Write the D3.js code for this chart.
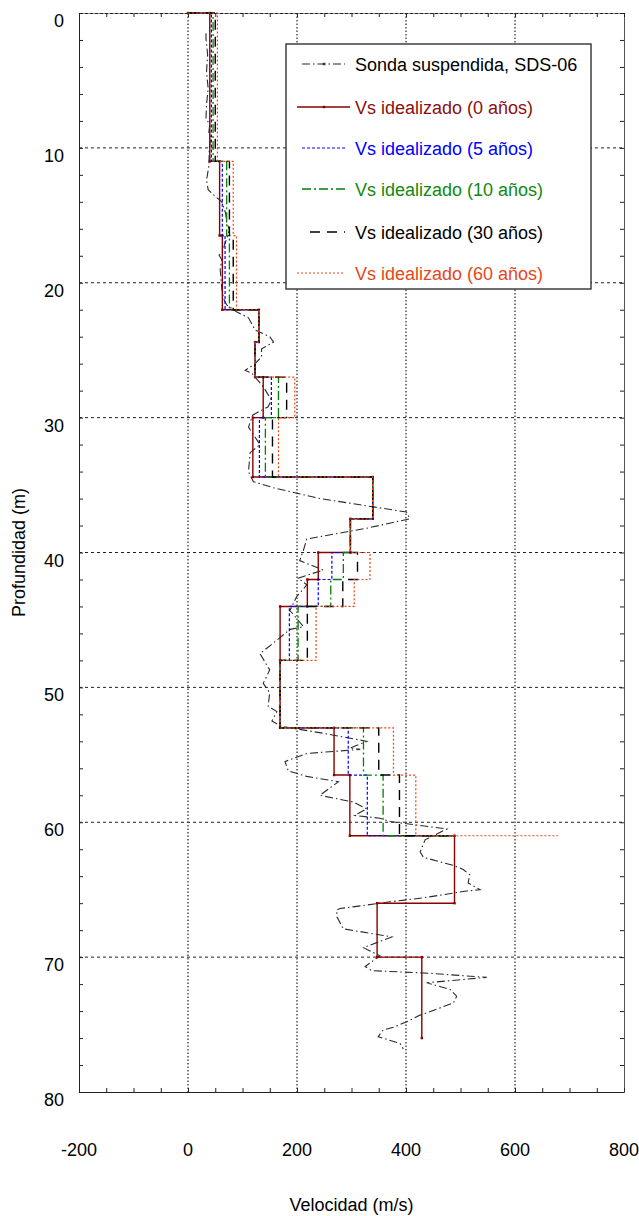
<!DOCTYPE html>
<html>
<head>
<meta charset="utf-8">
<script src="https://cdn.jsdelivr.net/npm/d3@7/dist/d3.min.js"></script>
<style>
  html, body { margin: 0; padding: 0; background: #fff; }
  svg { display: block; font-family: "Liberation Sans", Arial, sans-serif; }
</style>
</head>
<body>
<svg id="chart" width="639" height="1216"></svg>
<script>
// Axis ticks
const depthTicks = [0, 10, 20, 30, 40, 50, 60, 70, 80];
const velTicks = [-200, 0, 200, 400, 600, 800];

// Idealized layering: top and bottom depth of every layer (m)
const layerTop    = [0, 11, 16.5, 22, 24.4, 27, 30, 34.4, 37.5, 40, 42, 44, 48, 53, 56.5, 61, 66, 70];
const layerBottom = [11, 16.5, 22, 24.4, 27, 30, 34.4, 37.5, 40, 42, 44, 48, 53, 56.5, 61, 66, 70, 76];

// Shear-wave velocity per layer (m/s) for each age
const vs0  = [40, 58, 63, 130, 123, 138, 119, 339, 298, 239, 219, 169, 169, 268, 297, 489, 347, 429];
const vs5  = [43, 63, 68, 130, 123, 153, 131, 339, 298, 264, 239, 186, 169, 294, 329];
const vs10 = [46, 71, 76, 130, 123, 166, 142, 339, 298, 285, 262, 202, 169, 322, 358];
const vs30 = [50, 76, 83, 130, 123, 181, 155, 339, 298, 311, 284, 219, 169, 350, 388];
const vs60 = [54, 83, 89, 130, 123, 196, 166, 339, 298, 334, 305, 235, 169, 377, 418];
// Velocity at which the truncated profiles close at 61 m
const closeVs = [null, 489, 489, 489, 679];

// Suspension logging SDS-06: velocity (m/s)
const sdsVel = [33, 33, 36, 34, 37, 34, 33, 40, 38, 42, 39, 38.5, 34, 37, 50, 62, 69, 71, 76, 63, 57, 62, 59, 62, 65, 71, 89, 111, 123, 150, 157, 135, 135, 123, 105, 117, 138, 153, 147, 119, 111, 132, 114, 111, 120, 157, 242, 401, 407, 328, 218, 212, 205, 248, 202, 218, 199, 187, 212, 187, 157, 132, 150, 138, 150, 147, 163, 154, 172, 248, 328, 297, 316, 218, 178, 184, 218, 276, 242, 303, 328, 306, 352, 371, 475, 435, 426, 432, 487, 505, 517, 514, 536, 511, 432, 371, 279, 273, 273, 285, 374, 322, 352, 325, 337, 444, 548, 438, 481, 493, 487, 426, 401, 377, 358, 349, 389, 395];
// and its depth (m)
const sdsDepth = [1.5, 1.9, 3.1, 4.35, 5.6, 6.8, 7.8, 8.3, 8.9, 9.2, 10, 11.3, 12.4, 13.1, 13.6, 14, 14.85, 15.5, 16.1, 17.7, 17.95, 18.3, 19, 20.4, 21.15, 21.65, 22.15, 22.6, 23.5, 24, 24.4, 24.9, 25.5, 26, 26.5, 26.7, 27.7, 28.7, 29.2, 29.8, 30.7, 32, 32.6, 34, 34.75, 35.2, 36, 37, 37.5, 38.2, 39, 39.8, 40.6, 41.3, 41.9, 42.4, 43.3, 44.3, 45.5, 45.7, 46.7, 47.5, 48.7, 49.7, 50.4, 51.4, 51.8, 52.5, 52.9, 53.4, 54, 54.5, 54.6, 54.9, 55.5, 56.2, 56.6, 57, 58, 58.5, 59, 59.5, 59.7, 59.95, 60.5, 61.3, 62.2, 62.6, 63.2, 63.5, 63.9, 64.5, 65, 65.1, 65.6, 65.9, 66.4, 66.5, 67, 67.9, 68.5, 69.3, 69.9, 70.7, 71, 71.2, 71.5, 71.9, 72.4, 72.9, 73.4, 74.3, 74.8, 75.2, 75.4, 75.9, 76.4, 76.8];

const seriesNames = [
  "Sonda suspendida, SDS-06",
  "Vs idealizado (0 años)",
  "Vs idealizado (5 años)",
  "Vs idealizado (10 años)",
  "Vs idealizado (30 años)",
  "Vs idealizado (60 años)"
];
const seriesColors = ["#2a2a2a", "#8b0000", "#0000ff", "#008000", "#000000", "#ee4411"];
const textColors   = ["#000000", "#8b1010", "#0000ff", "#118811", "#000000", "#e8461a"];
const seriesDash   = ["8,3,1.5,3", null, "3,2", "9,3,2,3", "10,7", "2,2"];
const seriesWidth  = [1.1, 1.4, 1.2, 1.3, 1.4, 1.2];
const legendX1     = [302, 297, 302, 302, 310, 297];

const svg = d3.select("#chart");
const plotL = 79, plotR = 624, plotT = 13, plotB = 1092;
const fs = 18;

const x = d3.scaleLinear().domain([-200, 800]).range([plotL, plotR]);
const y = d3.scaleLinear().domain([0, 80]).range([plotT, plotB]);

// Grid
const grid = svg.append("g");
grid.selectAll("line.vg").data([0, 200, 400, 600]).join("line")
  .attr("x1", d => x(d)).attr("x2", d => x(d))
  .attr("y1", plotT).attr("y2", plotB)
  .attr("stroke", "#444").attr("stroke-width", 1.4).attr("stroke-dasharray", "1.5,2");
grid.selectAll("line.hg").data([10, 20, 30, 40, 50, 60, 70]).join("line")
  .attr("x1", plotL).attr("x2", plotR)
  .attr("y1", d => y(d)).attr("y2", d => y(d))
  .attr("stroke", "#222").attr("stroke-width", 1).attr("stroke-dasharray", "3,3");

// Frame with inward minor ticks
const frame = svg.append("g");
const yMinor = d3.range(0, 81, 2);
const xMinor = d3.range(-200, 801, 50);
frame.append("g").attr("transform", `translate(${plotL},0)`)
  .call(d3.axisRight(y).tickValues(yMinor).tickSize(4).tickSizeOuter(0).tickFormat(""))
  .call(g => g.select(".domain").attr("stroke", "#222"));
frame.append("g").attr("transform", `translate(${plotR},0)`)
  .call(d3.axisLeft(y).tickValues(yMinor).tickSize(4).tickSizeOuter(0).tickFormat(""))
  .call(g => g.select(".domain").attr("stroke", "#555"));
frame.append("g").attr("transform", `translate(0,${plotB})`)
  .call(d3.axisTop(x).tickValues(xMinor).tickSize(4).tickSizeOuter(0).tickFormat(""))
  .call(g => g.select(".domain").attr("stroke", "#222"));
frame.append("g").attr("transform", `translate(0,${plotT})`)
  .call(d3.axisBottom(x).tickValues(xMinor).tickSize(4).tickSizeOuter(0).tickFormat(""))
  .call(g => g.select(".domain").attr("stroke", "#222").attr("stroke-dasharray", "4,1"));
frame.selectAll(".tick line").attr("stroke", "#222");

// Tick labels
svg.append("g").selectAll("text").data(depthTicks).join("text")
  .attr("x", 64).attr("y", d => y(d) + 14)
  .attr("text-anchor", "end").attr("font-size", fs).text(d => d);
svg.append("g").selectAll("text").data(velTicks).join("text")
  .attr("x", d => x(d)).attr("y", 1156)
  .attr("text-anchor", "middle").attr("font-size", fs).text(d => d);

// Axis titles
svg.append("text").attr("x", (plotL + plotR) / 2).attr("y", 1211)
  .attr("text-anchor", "middle").attr("font-size", fs).text("Velocidad (m/s)");
svg.append("text").attr("transform", `translate(25,${(plotT + plotB) / 2}) rotate(-90)`)
  .attr("text-anchor", "middle").attr("font-size", fs).text("Profundidad (m)");

// Step profile from layer velocities
function stepPoints(vs, closeV) {
  const pts = [[0, 0]];
  vs.forEach((v, i) => {
    pts.push([v, layerTop[i]]);
    pts.push([v, layerBottom[i]]);
  });
  if (closeV != null) pts.push([closeV, layerBottom[vs.length - 1]]);
  return pts;
}

const line = d3.line().x(d => x(d[0])).y(d => y(d[1]));
const plot = svg.append("g");

// Measured profile
const sdsPts = sdsVel.map((v, i) => [v, sdsDepth[i]]);
plot.append("path").attr("d", line(sdsPts)).attr("fill", "none")
  .attr("stroke", seriesColors[0]).attr("stroke-width", seriesWidth[0])
  .attr("stroke-dasharray", seriesDash[0]);

// Idealized profiles
const profiles = [vs0, vs5, vs10, vs30, vs60];
profiles.forEach((vs, k) => {
  const s = k + 1;
  const pts = stepPoints(vs, closeVs[k]);
  plot.append("path").attr("d", line(pts)).attr("fill", "none")
    .attr("stroke", seriesColors[s]).attr("stroke-width", seriesWidth[s])
    .attr("stroke-dasharray", seriesDash[s]);
  if (k === 0) {
    plot.append("g").selectAll("rect").data(pts).join("rect")
      .attr("x", d => x(d[0]) - 1.2).attr("y", d => y(d[1]) - 1.2)
      .attr("width", 2.4).attr("height", 2.4).attr("fill", seriesColors[1]);
  }
});

// Legend
const lg = svg.append("g");
lg.append("rect").attr("x", 286).attr("y", 44).attr("width", 305).attr("height", 245)
  .attr("fill", "#fff").attr("stroke", "#333").attr("stroke-width", 1.4);
const legendY = [64, 107, 148, 189, 232, 273];
seriesNames.forEach((name, i) => {
  lg.append("line").attr("x1", legendX1[i]).attr("x2", i === 1 ? 350 : 345)
    .attr("y1", legendY[i]).attr("y2", legendY[i])
    .attr("stroke", seriesColors[i]).attr("stroke-width", seriesWidth[i])
    .attr("stroke-dasharray", seriesDash[i]);
  if (i <= 1) {
    lg.append("rect").attr("x", 324 - 1.2).attr("y", legendY[i] - 1.2)
      .attr("width", 2.4).attr("height", 2.4).attr("fill", seriesColors[i]);
  }
  lg.append("text").attr("x", 355).attr("y", legendY[i] + 6.5)
    .attr("font-size", fs).attr("fill", textColors[i]).text(name);
});
</script>
</body>
</html>
